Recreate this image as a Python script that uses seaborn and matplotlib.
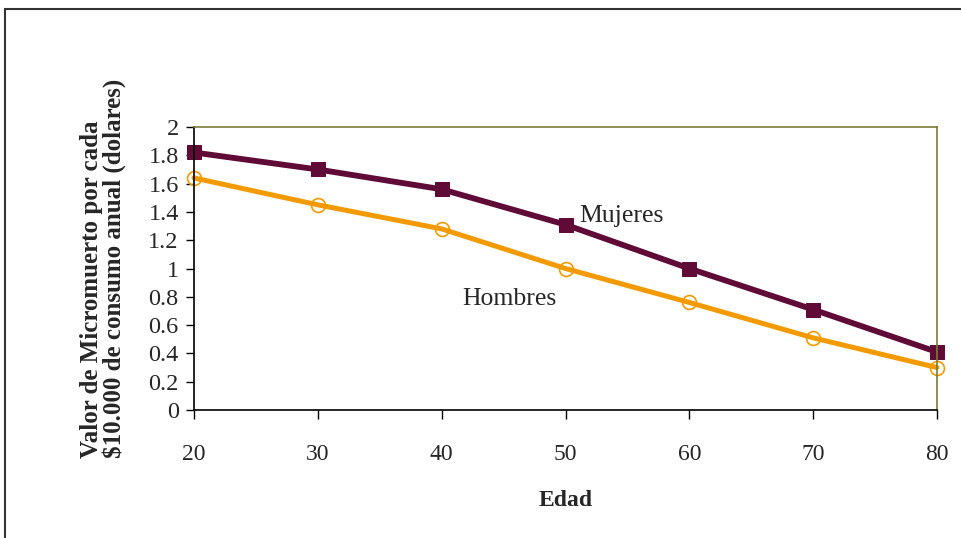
import matplotlib
matplotlib.use("Agg")
import matplotlib.pyplot as plt
import seaborn as sns
import pandas as pd
from matplotlib.patches import Rectangle

edad = [20, 30, 40, 50, 60, 70, 80]
mujeres = [1.82, 1.70, 1.56, 1.31, 1.00, 0.71, 0.41]
hombres = [1.64, 1.45, 1.28, 1.00, 0.76, 0.51, 0.30]
y_ticks = [0, 0.2, 0.4, 0.6, 0.8, 1, 1.2, 1.4, 1.6, 1.8, 2]
y_tick_labels = ["0", "0.2", "0.4", "0.6", "0.8", "1", "1.2", "1.4", "1.6", "1.8", "2"]

sns.set_style("white")
plt.rcParams['font.family'] = ['Liberation Serif', 'DejaVu Serif']

fig = plt.figure(figsize=(9.61, 5.38), dpi=100)
ax = fig.add_axes([0.2019, 0.2379, 0.7731, 0.526])

purple = "#600A38"
orange = "#F39A00"

sns.lineplot(x=edad, y=hombres, ax=ax, color=orange, linewidth=3.6,
             marker="o", markersize=10, markerfacecolor="none",
             markeredgecolor=orange, markeredgewidth=1.2, clip_on=False)
sns.lineplot(x=edad, y=mujeres, ax=ax, color=purple, linewidth=4.2,
             marker="s", markersize=10, markerfacecolor=purple,
             markeredgecolor=purple, clip_on=False)

ax.set_xlim(20, 80)
ax.set_ylim(0, 2)
ax.set_xticks(edad)
ax.set_xticklabels([str(v) for v in edad], fontsize=17)
ax.set_yticks(y_ticks)
ax.set_yticklabels(y_tick_labels, fontsize=17.5)

for s in ["left", "bottom"]:
    ax.spines[s].set_color("black")
    ax.spines[s].set_linewidth(1.2)
for s in ["top", "right"]:
    ax.spines[s].set_color("#7A7A3A")
    ax.spines[s].set_linewidth(1.2)

ax.tick_params(axis="y", which="major", direction="out", length=6, width=1, color="black", left=True, pad=5)
ax.tick_params(axis="x", which="major", direction="out", length=6.5, width=1, color="black", bottom=True, pad=18)

ax.set_xlabel("Edad", fontsize=17, fontweight="bold", labelpad=18)
ylab = ax.set_ylabel("Valor de Micromuerto por cada\n$10.000 de consumo anual (dolares)",
                     fontsize=18, fontweight="bold", labelpad=16, linespacing=0.95)
ylab.set_multialignment("left")

ax.text(51.1, 1.37, "Mujeres", fontsize=18.5, ha="left", va="center")
ax.text(49.3, 0.785, "Hombres", fontsize=18.5, ha="right", va="center")

rect = Rectangle((0.005, -0.05), 1.2, 1.033, transform=fig.transFigure,
                 fill=False, edgecolor="#333333", linewidth=1.5, clip_on=False)
fig.patches.append(rect)

fig.savefig("out.png", dpi=100)
